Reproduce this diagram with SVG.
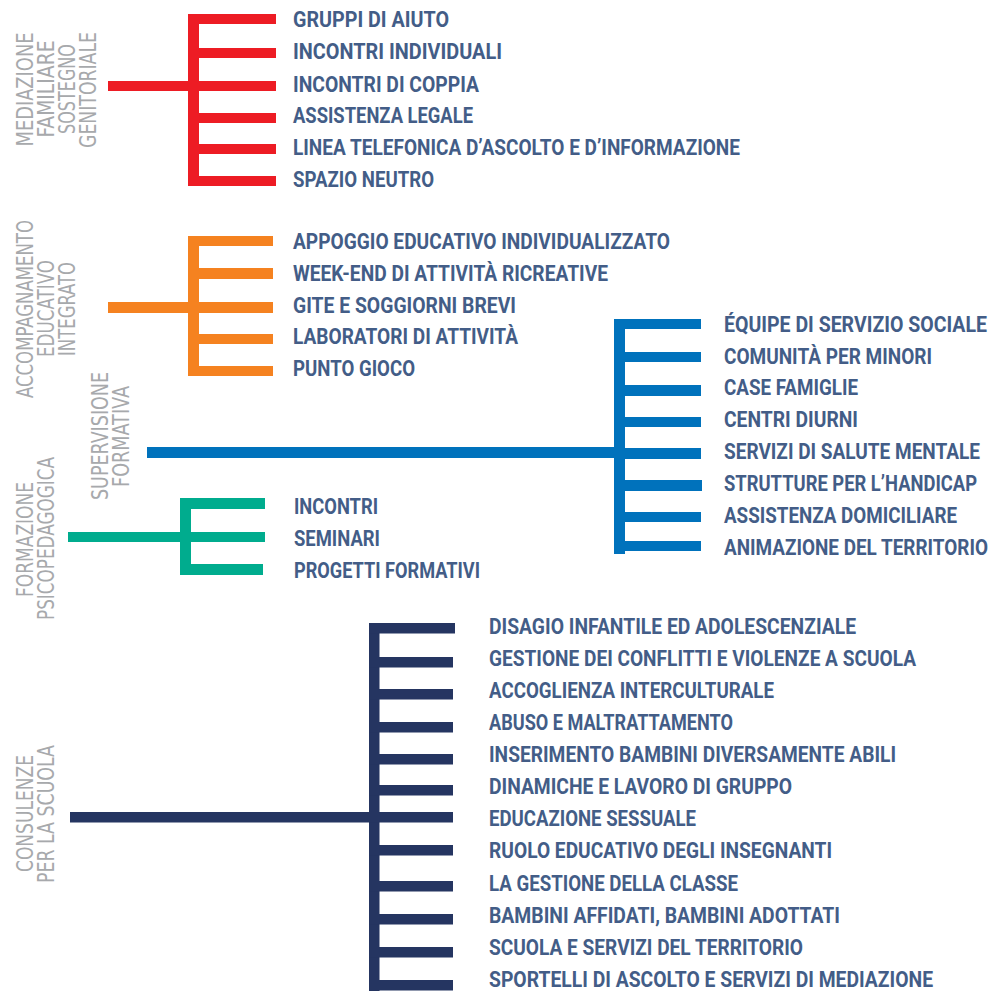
<svg xmlns="http://www.w3.org/2000/svg" width="998" height="991" viewBox="0 0 998 991">
<style>
.item{font-family:Roboto,"DejaVu Sans Condensed","Liberation Sans",sans-serif;font-size:22px;font-weight:700;fill:#435d87}
.cat{font-family:"Liberation Sans Narrow","DejaVu Sans Condensed","Liberation Sans",sans-serif;font-size:23px;fill:#a7a9ac;text-anchor:middle}
.red{fill:#ed1c24}.orange{fill:#f58220}.blue{fill:#0072bc}.teal{fill:#00ac8e}.navy{fill:#253561}
</style>
<rect width="998" height="991" fill="#ffffff"/>
<g id="connectors">
  <g id="bracket-mediazione" class="red">
    <rect x="108" y="81" width="91" height="10"/>
    <rect x="188" y="14" width="11" height="172"/>
    <rect x="188" y="14" width="88" height="10"/>
    <rect x="188" y="48" width="88" height="10"/>
    <rect x="188" y="81" width="88" height="10"/>
    <rect x="188" y="113" width="88" height="10"/>
    <rect x="188" y="144" width="88" height="10"/>
    <rect x="188" y="176" width="88" height="10"/>
  </g>
  <g id="bracket-accompagnamento" class="orange">
    <rect x="108" y="302" width="91" height="11"/>
    <rect x="188" y="236" width="11" height="140"/>
    <rect x="188" y="236" width="85" height="10"/>
    <rect x="188" y="268" width="85" height="11"/>
    <rect x="188" y="302" width="85" height="11"/>
    <rect x="188" y="334" width="85" height="10"/>
    <rect x="188" y="366" width="85" height="10"/>
  </g>
  <g id="bracket-supervisione" class="blue">
    <rect x="147" y="447" width="478" height="11"/>
    <rect x="614" y="319" width="11" height="235"/>
    <rect x="614" y="319" width="87" height="10"/>
    <rect x="614" y="352" width="87" height="10"/>
    <rect x="614" y="385" width="87" height="11"/>
    <rect x="614" y="417" width="87" height="10"/>
    <rect x="614" y="448" width="87" height="11"/>
    <rect x="614" y="480" width="88" height="11"/>
    <rect x="614" y="512" width="87" height="10"/>
    <rect x="614" y="541" width="87" height="10"/>
  </g>
  <g id="bracket-formazione" class="teal">
    <rect x="68" y="532" width="123" height="10"/>
    <rect x="180" y="498" width="11" height="77"/>
    <rect x="180" y="498" width="85" height="11"/>
    <rect x="180" y="532" width="85" height="10"/>
    <rect x="180" y="564" width="83" height="11"/>
  </g>
  <g id="bracket-consulenze" class="navy">
    <rect x="70" y="812" width="309" height="10.5"/>
    <rect x="369" y="623" width="10.5" height="368"/>
    <rect x="369" y="623" width="86" height="10.5"/>
    <rect x="369" y="657" width="84" height="10.5"/>
    <rect x="369" y="689" width="84" height="10.5"/>
    <rect x="369" y="722" width="84" height="10.5"/>
    <rect x="369" y="754" width="84" height="10.5"/>
    <rect x="369" y="785" width="84" height="10.5"/>
    <rect x="369" y="812" width="84" height="10.5"/>
    <rect x="369" y="845" width="84" height="10.5"/>
    <rect x="369" y="881" width="84" height="10.5"/>
    <rect x="369" y="914" width="84" height="10.5"/>
    <rect x="369" y="947" width="84" height="10.5"/>
    <rect x="369" y="980" width="84" height="10.5"/>
  </g>
</g>
<g id="cat-mediazione" class="cat">
  <text transform="rotate(-90 33 89.5)" x="33" y="89.5" textLength="114" lengthAdjust="spacingAndGlyphs">MEDIAZIONE</text>
  <text transform="rotate(-90 53.5 89)" x="53.5" y="89" textLength="97" lengthAdjust="spacingAndGlyphs">FAMILIARE</text>
  <text transform="rotate(-90 74.5 89)" x="74.5" y="89" textLength="90" lengthAdjust="spacingAndGlyphs">SOSTEGNO</text>
  <text transform="rotate(-90 96 90)" x="96" y="90" textLength="116" lengthAdjust="spacingAndGlyphs">GENITORIALE</text>
</g>
<g id="cat-accompagnamento" class="cat">
  <text transform="rotate(-90 33 309)" x="33" y="309" textLength="178" lengthAdjust="spacingAndGlyphs">ACCOMPAGNAMENTO</text>
  <text transform="rotate(-90 53.5 308.5)" x="53.5" y="308.5" textLength="97" lengthAdjust="spacingAndGlyphs">EDUCATIVO</text>
  <text transform="rotate(-90 74.5 309)" x="74.5" y="309" textLength="94" lengthAdjust="spacingAndGlyphs">INTEGRATO</text>
</g>
<g id="cat-supervisione" class="cat">
  <text transform="rotate(-90 108 436)" x="108" y="436" textLength="128" lengthAdjust="spacingAndGlyphs">SUPERVISIONE</text>
  <text transform="rotate(-90 128.5 436.5)" x="128.5" y="436.5" textLength="101" lengthAdjust="spacingAndGlyphs">FORMATIVA</text>
</g>
<g id="cat-formazione" class="cat">
  <text transform="rotate(-90 33 539.5)" x="33" y="539.5" textLength="115" lengthAdjust="spacingAndGlyphs">FORMAZIONE</text>
  <text transform="rotate(-90 53.5 538.5)" x="53.5" y="538.5" textLength="163" lengthAdjust="spacingAndGlyphs">PSICOPEDAGOGICA</text>
</g>
<g id="cat-consulenze" class="cat">
  <text transform="rotate(-90 33 813.5)" x="33" y="813.5" textLength="117" lengthAdjust="spacingAndGlyphs">CONSULENZE</text>
  <text transform="rotate(-90 53.5 814)" x="53.5" y="814" textLength="138" lengthAdjust="spacingAndGlyphs">PER LA SCUOLA</text>
</g>
<g id="items-mediazione" class="item">
  <g id="n-gruppi"><text x="293" y="27" textLength="156" lengthAdjust="spacingAndGlyphs">GRUPPI DI AIUTO</text></g>
  <g id="n-incontri-individuali"><text x="293" y="59" textLength="209" lengthAdjust="spacingAndGlyphs">INCONTRI INDIVIDUALI</text></g>
  <g id="n-incontri-coppia"><text x="293" y="91.5" textLength="186" lengthAdjust="spacingAndGlyphs">INCONTRI DI COPPIA</text></g>
  <g id="n-assistenza-legale"><text x="293" y="123" textLength="180" lengthAdjust="spacingAndGlyphs">ASSISTENZA LEGALE</text></g>
  <g id="n-linea"><text x="293" y="155" textLength="447" lengthAdjust="spacingAndGlyphs">LINEA TELEFONICA D’ASCOLTO E D’INFORMAZIONE</text></g>
  <g id="n-spazio"><text x="293" y="187" textLength="141" lengthAdjust="spacingAndGlyphs">SPAZIO NEUTRO</text></g>
</g>
<g id="items-accompagnamento" class="item">
  <g id="n-appoggio"><text x="293" y="249" textLength="377" lengthAdjust="spacingAndGlyphs">APPOGGIO EDUCATIVO INDIVIDUALIZZATO</text></g>
  <g id="n-weekend"><text x="293" y="280.5" textLength="315" lengthAdjust="spacingAndGlyphs">WEEK-END DI ATTIVITÀ RICREATIVE</text></g>
  <g id="n-gite"><text x="293" y="312.5" textLength="223" lengthAdjust="spacingAndGlyphs">GITE E SOGGIORNI BREVI</text></g>
  <g id="n-laboratori"><text x="293" y="344" textLength="225" lengthAdjust="spacingAndGlyphs">LABORATORI DI ATTIVITÀ</text></g>
  <g id="n-punto-gioco"><text x="293" y="376" textLength="122" lengthAdjust="spacingAndGlyphs">PUNTO GIOCO</text></g>
</g>
<g id="items-supervisione" class="item">
  <g id="n-equipe"><text x="724" y="332" textLength="263" lengthAdjust="spacingAndGlyphs">ÉQUIPE DI SERVIZIO SOCIALE</text></g>
  <g id="n-comunita"><text x="724" y="363.5" textLength="208" lengthAdjust="spacingAndGlyphs">COMUNITÀ PER MINORI</text></g>
  <g id="n-case"><text x="724" y="395" textLength="134" lengthAdjust="spacingAndGlyphs">CASE FAMIGLIE</text></g>
  <g id="n-centri"><text x="724" y="427" textLength="134" lengthAdjust="spacingAndGlyphs">CENTRI DIURNI</text></g>
  <g id="n-salute"><text x="724" y="459" textLength="256" lengthAdjust="spacingAndGlyphs">SERVIZI DI SALUTE MENTALE</text></g>
  <g id="n-handicap"><text x="724" y="491" textLength="253" lengthAdjust="spacingAndGlyphs">STRUTTURE PER L’HANDICAP</text></g>
  <g id="n-domiciliare"><text x="724" y="523" textLength="233" lengthAdjust="spacingAndGlyphs">ASSISTENZA DOMICILIARE</text></g>
  <g id="n-animazione"><text x="724" y="555" textLength="264" lengthAdjust="spacingAndGlyphs">ANIMAZIONE DEL TERRITORIO</text></g>
</g>
<g id="items-formazione" class="item">
  <g id="n-incontri"><text x="294" y="514" textLength="84" lengthAdjust="spacingAndGlyphs">INCONTRI</text></g>
  <g id="n-seminari"><text x="294" y="546" textLength="86" lengthAdjust="spacingAndGlyphs">SEMINARI</text></g>
  <g id="n-progetti"><text x="294" y="578" textLength="186" lengthAdjust="spacingAndGlyphs">PROGETTI FORMATIVI</text></g>
</g>
<g id="items-consulenze" class="item">
  <g id="n-disagio"><text x="489" y="634" textLength="367" lengthAdjust="spacingAndGlyphs">DISAGIO INFANTILE ED ADOLESCENZIALE</text></g>
  <g id="n-conflitti"><text x="489" y="666" textLength="427" lengthAdjust="spacingAndGlyphs">GESTIONE DEI CONFLITTI E VIOLENZE A SCUOLA</text></g>
  <g id="n-accoglienza"><text x="489" y="698" textLength="285" lengthAdjust="spacingAndGlyphs">ACCOGLIENZA INTERCULTURALE</text></g>
  <g id="n-abuso"><text x="489" y="730" textLength="244" lengthAdjust="spacingAndGlyphs">ABUSO E MALTRATTAMENTO</text></g>
  <g id="n-inserimento"><text x="489" y="762" textLength="407" lengthAdjust="spacingAndGlyphs">INSERIMENTO BAMBINI DIVERSAMENTE ABILI</text></g>
  <g id="n-dinamiche"><text x="489" y="794" textLength="303" lengthAdjust="spacingAndGlyphs">DINAMICHE E LAVORO DI GRUPPO</text></g>
  <g id="n-educazione"><text x="489" y="826" textLength="207" lengthAdjust="spacingAndGlyphs">EDUCAZIONE SESSUALE</text></g>
  <g id="n-ruolo"><text x="489" y="858" textLength="343" lengthAdjust="spacingAndGlyphs">RUOLO EDUCATIVO DEGLI INSEGNANTI</text></g>
  <g id="n-classe"><text x="489" y="890.5" textLength="249" lengthAdjust="spacingAndGlyphs">LA GESTIONE DELLA CLASSE</text></g>
  <g id="n-affidati"><text x="489" y="923" textLength="351" lengthAdjust="spacingAndGlyphs">BAMBINI AFFIDATI, BAMBINI ADOTTATI</text></g>
  <g id="n-scuola"><text x="489" y="955" textLength="314" lengthAdjust="spacingAndGlyphs">SCUOLA E SERVIZI DEL TERRITORIO</text></g>
  <g id="n-sportelli"><text x="489" y="987" textLength="444" lengthAdjust="spacingAndGlyphs">SPORTELLI DI ASCOLTO E SERVIZI DI MEDIAZIONE</text></g>
</g>
</svg>
